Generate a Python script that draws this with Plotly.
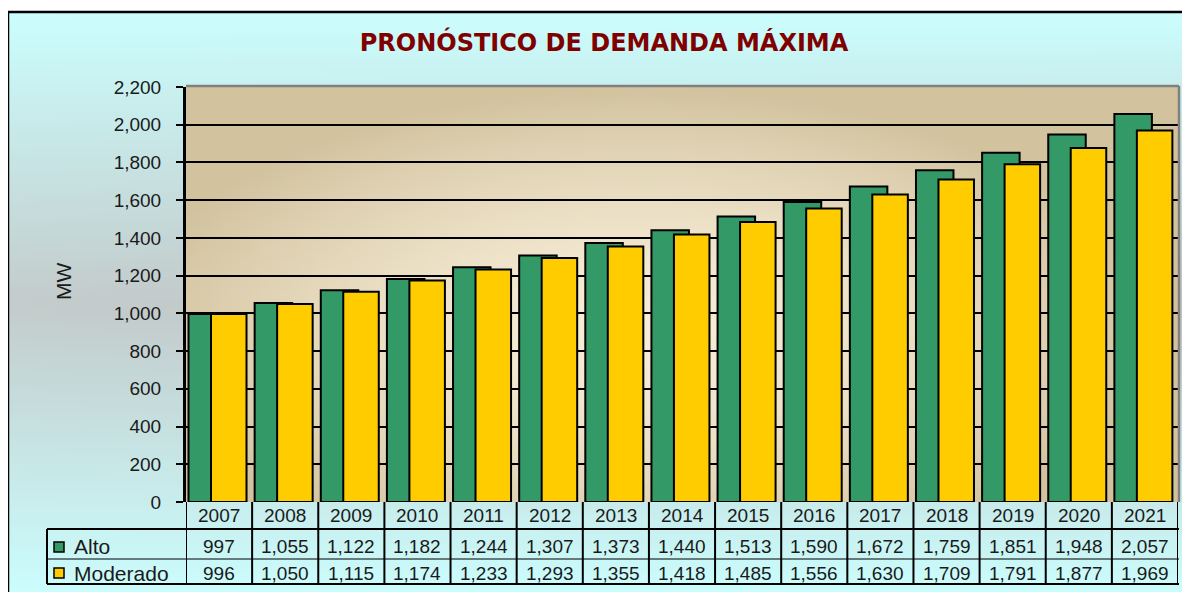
import base64
import struct
import zlib

import numpy as np
import plotly.graph_objects as go

# ---------------- data ----------------
years = ["2007", "2008", "2009", "2010", "2011", "2012", "2013", "2014",
         "2015", "2016", "2017", "2018", "2019", "2020", "2021"]
alto = [997, 1055, 1122, 1182, 1244, 1307, 1373, 1440, 1513, 1590,
        1672, 1759, 1851, 1948, 2057]
moderado = [996, 1050, 1115, 1174, 1233, 1293, 1355, 1418, 1485, 1556,
            1630, 1709, 1791, 1877, 1969]
y_ticks = [0, 200, 400, 600, 800, 1000, 1200, 1400, 1600, 1800, 2000, 2200]
series_names = ["Alto", "Moderado"]
title_text = "PRONÓSTICO DE DEMANDA MÁXIMA"
y_title = "MW"

# ---------------- geometry helpers (reference pixels -> paper) ----------------
OFF = 8                      # page body margin of the browser
W, H = 1190 - OFF, 592 - OFF  # figure size
PL, PR, PT, PB = 186, 1178, 87, 502   # plot area in reference pixels


def fx(px):
    return (px - PL) / (PR - PL)


def fy(py):
    return (PB - py) / (PB - PT)


def png_uri(arr):
    arr = np.clip(arr, 0, 255).astype(np.uint8)
    h, w, _ = arr.shape
    raw = b"".join(b"\x00" + arr[i].tobytes() for i in range(h))

    def chunk(t, d):
        return (struct.pack(">I", len(d)) + t + d
                + struct.pack(">I", zlib.crc32(t + d) & 0xFFFFFFFF))

    png = (b"\x89PNG\r\n\x1a\n"
           + chunk(b"IHDR", struct.pack(">IIBBBBB", w, h, 8, 2, 0, 0, 0))
           + chunk(b"IDAT", zlib.compress(raw))
           + chunk(b"IEND", b""))
    return "data:image/png;base64," + base64.b64encode(png).decode()


# background (chart area) gradient: cyan top/bottom, grey in the middle
bh, bw = 80, 40
cyan = np.array([204, 255, 255], float)
grey_l = np.array([196, 204, 204], float)
grey_r = np.array([192, 192, 192], float)
bg = np.zeros((bh, bw, 3))
for r in range(bh):
    py = 12 + (r + 0.5) / bh * 580
    t = min(1.0, abs(py - 300) / 290)
    for c in range(bw):
        s = c / (bw - 1)
        g = grey_l * (1 - s) + grey_r * s
        bg[r, c] = g + (cyan - g) * t

# plot area gradient: light cream centre, tan edges
ph, pw = 60, 100
light = np.array([248, 238, 216], float)
dark = np.array([210, 194, 158], float)
pa = np.zeros((ph, pw, 3))
for r in range(ph):
    py = PT + (r + 0.5) / ph * (PB - PT)
    for c in range(pw):
        px = PL + (c + 0.5) / pw * (PR - PL)
        d = np.hypot((px - 640) / 520, (py - 330) / 245)
        k = min(1.0, d) ** 1.6
        pa[r, c] = light + (dark - light) * k

FONT = "Liberation Sans, Arial, sans-serif"
TFONT = "DejaVu Sans"
TXT = "#1a1a1a"

fig = go.Figure()
fig.add_trace(go.Bar(
    x=years, y=alto, name=series_names[0],
    marker=dict(color="#339966", line=dict(color="black", width=2)),
    offset=-0.462, width=0.567, hoverinfo="x+y+name"))
fig.add_trace(go.Bar(
    x=years, y=moderado, name=series_names[1],
    marker=dict(color="#FFCC00", line=dict(color="black", width=2)),
    offset=-0.122, width=0.537, hoverinfo="x+y+name"))

shapes = []
annotations = []

# outer chart border
shapes.append(dict(type="rect", xref="paper", yref="paper",
                   x0=fx(8), x1=fx(1200), y0=fy(12), y1=fy(600),
                   line=dict(color="black", width=2.5), layer="above"))
# plot area grey border (top & right)
shapes.append(dict(type="line", xref="paper", yref="paper",
                   x0=fx(186), x1=fx(1179), y0=fy(86), y1=fy(86),
                   line=dict(color="#808080", width=2.5)))
shapes.append(dict(type="line", xref="paper", yref="paper",
                   x0=fx(1179), x1=fx(1179), y0=fy(86), y1=fy(502),
                   line=dict(color="#808080", width=2.5)))

# data table grid
n = len(years)
for k in range(n + 1):
    shapes.append(dict(type="line", xref="x", yref="paper",
                       x0=k - 0.5, x1=k - 0.5, y0=fy(502), y1=fy(584),
                       line=dict(color="black", width=2)))
shapes.append(dict(type="line", xref="paper", yref="paper",
                   x0=fx(47), x1=fx(1179), y0=fy(529), y1=fy(529),
                   line=dict(color="black", width=2)))
shapes.append(dict(type="line", xref="paper", yref="paper",
                   x0=fx(47), x1=fx(1179), y0=fy(559), y1=fy(559),
                   line=dict(color="black", width=1)))
shapes.append(dict(type="line", xref="paper", yref="paper",
                   x0=fx(47), x1=fx(1179), y0=fy(584), y1=fy(584),
                   line=dict(color="black", width=2)))
shapes.append(dict(type="line", xref="paper", yref="paper",
                   x0=fx(47), x1=fx(47), y0=fy(529), y1=fy(584),
                   line=dict(color="black", width=2)))

# legend keys in the table
for col, (y0, y1) in zip(["#339966", "#FFCC00"], [(542, 552), (568, 578)]):
    shapes.append(dict(type="rect", xref="paper", yref="paper",
                       x0=fx(54), x1=fx(64), y0=fy(y0), y1=fy(y1),
                       fillcolor=col, line=dict(color="black", width=1.5)))

for name, yc in zip(series_names, [546, 573]):
    annotations.append(dict(xref="paper", yref="paper", x=fx(72), y=fy(yc),
                            text=name, showarrow=False, xanchor="left",
                            yanchor="middle",
                            font=dict(family=FONT, size=21, color=TXT)))

for i, yr in enumerate(years):
    for txt, yc in [(yr, 516), (f"{alto[i]:,}", 546), (f"{moderado[i]:,}", 573)]:
        annotations.append(dict(xref="x", yref="paper", x=i, y=fy(yc),
                                text=txt, showarrow=False,
                                xanchor="center", yanchor="middle",
                                font=dict(family=FONT, size=19, color=TXT)))

# y axis title
annotations.append(dict(xref="paper", yref="paper", x=fx(63), y=fy(282),
                        text=y_title, showarrow=False, textangle=-90,
                        xanchor="center", yanchor="middle",
                        font=dict(family=FONT, size=21, color=TXT)))

images = [
    dict(source=png_uri(bg), xref="paper", yref="paper",
         x=fx(8), y=fy(12), sizex=(1200 - 8) / (PR - PL),
         sizey=(600 - 12) / (PB - PT), sizing="stretch",
         xanchor="left", yanchor="top", layer="below"),
    dict(source=png_uri(pa), xref="paper", yref="paper",
         x=0, y=1, sizex=1, sizey=1, sizing="stretch",
         xanchor="left", yanchor="top", layer="below"),
]

fig.update_layout(
    width=W, height=H,
    margin=dict(l=PL - OFF, r=1190 - PR, t=PT - OFF, b=592 - PB, pad=0),
    paper_bgcolor="white",
    plot_bgcolor="rgba(0,0,0,0)",
    barmode="overlay",
    showlegend=False,
    title=dict(text=f"<b>{title_text}</b>", x=(604 - OFF) / W,
               xref="container", xanchor="center",
               y=1 - (43 - OFF) / H, yref="container", yanchor="middle",
               font=dict(family=TFONT, size=24, color="#800000")),
    xaxis=dict(type="category", range=[-0.5, n - 0.5], showticklabels=False,
               showgrid=False, zeroline=False, showline=False, ticks=""),
    yaxis=dict(range=[0, 2200], tickvals=y_ticks, tickformat=",",
               ticks="outside", ticklen=7, tickwidth=2, tickcolor="black",
               showline=True, linecolor="black", linewidth=3,
               showgrid=True, gridcolor="black", gridwidth=1.5,
               zeroline=False, ticklabelstandoff=11,
               tickfont=dict(family=FONT, size=19, color=TXT)),
    shapes=shapes,
    annotations=annotations,
    images=images,
)

fig.write_html("out.html")
